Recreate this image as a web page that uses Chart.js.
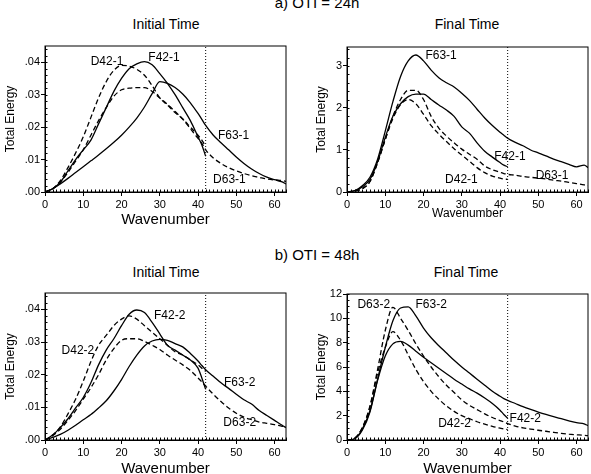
<!DOCTYPE html>
<html>
<head>
<meta charset="utf-8">
<script src="https://cdn.jsdelivr.net/npm/chart.js@4"></script>
<style>
  html, body { margin: 0; padding: 0; background: #fff; overflow: hidden; }
  body { width: 591px; height: 474px; position: relative; font-family: "Liberation Sans", Arial, sans-serif; color: #000; }
  .txt { position: absolute; width: 200px; text-align: center; white-space: nowrap; }
  .head { font-size: 15px; line-height: 15px; }
  .ttl { font-size: 14px; line-height: 14px; }
  canvas { position: absolute; }
</style>
</head>
<body>
<div class="txt head" style="left:217px; top:-5px;">a) OTI = 24h</div>
<div class="txt head" style="left:217px; top:247px;">b) OTI = 48h</div>
<div class="txt ttl" style="left:66px; top:17px;">Initial Time</div>
<div class="txt ttl" style="left:367px; top:17px;">Final Time</div>
<div class="txt ttl" style="left:66px; top:265px;">Initial Time</div>
<div class="txt ttl" style="left:366px; top:265px;">Final Time</div>

<canvas id="c1" width="296" height="200" style="left:0px; top:30px;"></canvas>
<canvas id="c2" width="279" height="200" style="left:312px; top:30px;"></canvas>
<canvas id="c3" width="296" height="205" style="left:0px; top:278px;"></canvas>
<canvas id="c4" width="279" height="205" style="left:312px; top:278px;"></canvas>

<script>
// wavenumbers (42-runs stop at 42)
const waves = [0,2,4,6,8,10,12,14,16,18,20,22,24,26,28,30,32,34,36,38,40,41,42,44,46,48,50,52,54,56,58,60,62,63];
const xTicks = [0,10,20,30,40,50,60];
const xTickLabels = ['0','10','20','30','40','50','60'];

// a) OTI = 24h, initial time
const aInitD42 = [0,.001,.0035,.0075,.012,.017,.023,.029,.034,.0375,.039,.0388,.0378,.036,.0328,.029,.0268,.0245,.0225,.02,.0175,.016,.014];
const aInitF42 = [0,.001,.003,.0065,.01,.013,.016,.021,.026,.031,.035,.038,.0395,.0402,.0392,.0365,.0335,.03,.026,.022,.017,.0145,.011];
const aInitD63 = [0,.001,.003,.006,.0095,.013,.0175,.022,.026,.0295,.0315,.032,.0322,.0322,.031,.029,.027,.0248,.0225,.0195,.0165,.015,.013,.0105,.0088,.0075,.0065,.0057,.005,.0045,.004,.0037,.0035,.0033];
const aInitF63 = [0,.001,.0025,.0042,.006,.0078,.0096,.0114,.0133,.0153,.0175,.0200,.0228,.0262,.0303,.034,.0335,.0322,.0302,.0275,.0242,.0224,.0205,.0175,.0152,.013,.0108,.0088,.0071,.0057,.0046,.0038,.0031,.0025];

// a) OTI = 24h, final time
const aFinD42 = [0,.02,.08,.25,.7,1.25,1.75,2.08,2.2,2.1,1.85,1.58,1.38,1.2,1.03,.88,.73,.58,.46,.38,.33,.31,.3];
const aFinF42 = [0,.03,.12,.3,.72,1.3,1.8,2.1,2.27,2.33,2.33,2.2,2.07,1.95,1.8,1.55,1.4,1.17,.97,.83,.7,.64,.6];
const aFinD63 = [0,.02,.08,.25,.7,1.25,1.8,2.2,2.42,2.42,2.2,1.8,1.52,1.33,1.17,1.02,.9,.78,.62,.53,.47,.44,.42,.4,.37,.35,.33,.31,.28,.26,.23,.2,.17,.15];
const aFinF63 = [0,.03,.15,.35,.78,1.45,2.15,2.75,3.12,3.26,3.12,2.9,2.72,2.6,2.5,2.35,2.18,1.97,1.76,1.58,1.42,1.35,1.28,1.18,1.1,1.0,.93,.86,.78,.72,.66,.6,.64,.58];

// b) OTI = 48h, initial time
const bInitD42 = [0,.0015,.004,.008,.0125,.018,.024,.029,.032,.035,.037,.038,.037,.035,.033,.031,.029,.027,.026,.0245,.023,.022,.021];
const bInitF42 = [0,.0015,.0038,.0065,.0098,.013,.0175,.023,.0275,.031,.035,.0385,.0398,.039,.036,.0325,.029,.0275,.026,.0245,.022,.019,.0155];
const bInitD63 = [0,.0013,.0033,.006,.009,.0125,.016,.02,.0245,.028,.0305,.031,.031,.0302,.029,.0277,.026,.0245,.023,.0213,.019,.0178,.0165,.014,.0118,.0098,.0082,.007,.0062,.0055,.0051,.0047,.0042,.004];
const bInitF63 = [0,.0008,.0017,.003,.0045,.0062,.0078,.0098,.012,.015,.0185,.0225,.026,.0288,.0303,.0308,.0305,.0295,.0285,.0265,.0242,.0228,.0215,.0195,.0175,.0158,.014,.0123,.011,.009,.0075,.006,.0045,.0038];

// b) OTI = 48h, final time
const bFinD42 = [0,.15,1.0,2.7,5.5,7.6,8.9,8.2,7.0,5.8,4.8,4.0,3.35,2.8,2.35,2.0,1.75,1.5,1.3,1.12,.97,.9,.85];
const bFinF42 = [0,.1,.8,2.3,4.9,6.9,7.9,8.1,7.8,7.3,6.8,6.35,5.9,5.45,5.0,4.6,4.2,3.85,3.45,3.0,2.45,2.1,1.8];
const bFinD63 = [0,.15,1.0,2.8,5.8,9.0,10.9,10.0,9.0,7.9,6.9,6.0,5.2,4.5,3.9,3.3,2.85,2.5,2.15,1.85,1.6,1.48,1.35,1.15,1.0,.9,.8,.72,.63,.55,.48,.43,.38,.36];
const bFinF63 = [0,.1,.9,2.4,5.0,7.6,9.8,10.85,10.95,10.2,9.2,8.4,7.75,7.15,6.55,6.0,5.5,5.0,4.5,4.0,3.6,3.4,3.25,3.0,2.75,2.52,2.3,2.1,1.92,1.75,1.58,1.42,1.32,1.18];

// y ticks
const yTicksSmall = [0,.01,.02,.03,.04];
const yTickLabelsSmall = ['.00','.01','.02','.03','.04'];
const yTicksAFin = [0,1,2,3];
const yTickLabelsAFin = ['0','1','2','3'];
const yTicksBFin = [0,2,4,6,8,10,12];
const yTickLabelsBFin = ['0','2','4','6','8','10','12'];

// curve labels (text, wavenumber, energy)
const aInitLabels = ['D42-1','F42-1','F63-1','D63-1'];
const aInitLabelX = [16.2, 31.1, 49.3, 48.2];
const aInitLabelY = [.0401, .0414, .0175, .0037];
const aFinLabels = ['F63-1','F42-1','D42-1','D63-1'];
const aFinLabelX = [24.6, 42.6, 29.9, 53.6];
const aFinLabelY = [3.25, .83, .29, .39];
const bInitLabels = ['F42-2','D42-2','F63-2','D63-2'];
const bInitLabelX = [32.6, 8.6, 50.9, 50.9];
const bInitLabelY = [.0382, .0272, .0176, .0052];
const bFinLabels = ['D63-2','F63-2','F42-2','D42-2'];
const bFinLabelX = [7.0, 22.0, 46.6, 28.1];
const bFinLabelY = [11.1, 11.1, 1.78, 1.31];

const FONT = '"Liberation Sans", Arial, sans-serif';

const panelDecor = {
    id: 'panelDecor',
    afterDatasetsDraw(chart, args, opts) {
        const {ctx, chartArea: a, scales: {x, y}} = chart;
        ctx.save();
        ctx.strokeStyle = '#000';
        ctx.lineWidth = 1;
        ctx.strokeRect(a.left, a.top, a.right - a.left, a.bottom - a.top);
        // minor ticks, inside the frame
        ctx.beginPath();
        for (let v = 0; v <= x.max; v += 1) {
            const px = Math.round(x.getPixelForValue(v)) + 0.5;
            ctx.moveTo(px, a.bottom);
            ctx.lineTo(px, a.bottom - 2.5);
        }
        for (let k = 0; k * opts.yMinor <= y.max + 1e-9; k++) {
            const py = Math.round(y.getPixelForValue(k * opts.yMinor)) + 0.5;
            ctx.moveTo(a.left, py);
            ctx.lineTo(a.left + 2.5, py);
        }
        ctx.stroke();
        ctx.font = '12px ' + FONT;
        ctx.fillStyle = '#000';
        ctx.textAlign = 'center';
        ctx.textBaseline = 'middle';
        opts.labels.forEach((t, i) => {
            ctx.fillText(t, x.getPixelForValue(opts.lx[i]), y.getPixelForValue(opts.ly[i]));
        });
        ctx.restore();
    }
};

function line(vals, dashed) {
    return {
        data: vals.map((v, i) => ({x: waves[i], y: v})),
        borderColor: '#000',
        borderWidth: 1.3,
        borderDash: dashed ? [5, 3] : [],
        pointRadius: 0,
        fill: false,
        cubicInterpolationMode: 'monotone'
    };
}

function makeChart(id, p) {
    const ctx = document.getElementById(id).getContext('2d');
    return new Chart(ctx, {
        type: 'line',
        data: {
            datasets: [
                line(p.d42, true),
                line(p.f42, false),
                line(p.d63, true),
                line(p.f63, false),
                {
                    data: [{x: 42, y: 0}, {x: 42, y: p.ymax}],
                    borderColor: '#000',
                    borderWidth: 1,
                    borderDash: [1, 2],
                    pointRadius: 0
                }
            ]
        },
        options: {
            responsive: false,
            animation: false,
            layout: { padding: { top: p.padTop, right: p.padRight, left: 0, bottom: 0 } },
            plugins: {
                legend: { display: false },
                tooltip: { enabled: false },
                panelDecor: { yMinor: p.yMinor, labels: p.labels, lx: p.lx, ly: p.ly }
            },
            scales: {
                x: {
                    type: 'linear', min: 0, max: 63,
                    afterBuildTicks: ax => { ax.ticks = xTicks.map(v => ({value: v})); },
                    afterFit: ax => { ax.height = p.xH; },
                    ticks: {
                        color: '#000', font: {family: FONT, size: 11}, padding: 2,
                        maxRotation: 0, autoSkip: false,
                        callback: (v, i) => xTickLabels[i]
                    },
                    grid: { drawOnChartArea: false, tickLength: 4, color: '#000' },
                    border: { color: '#000' },
                    title: {
                        display: true, text: 'Wavenumber', color: '#000',
                        font: {family: FONT, size: p.xTitleSize}, padding: {top: 0, bottom: p.xTitlePad}
                    }
                },
                y: {
                    type: 'linear', min: 0, max: p.ymax,
                    afterBuildTicks: ax => { ax.ticks = p.yTicks.map(v => ({value: v})); },
                    afterFit: ax => { ax.width = p.yW; },
                    ticks: {
                        color: '#000', font: {family: FONT, size: 11}, padding: 1,
                        callback: (v, i) => p.yLabels[i]
                    },
                    grid: { drawOnChartArea: false, tickLength: 4, color: '#000' },
                    border: { color: '#000' },
                    title: {
                        display: true, text: 'Total Energy', color: '#000',
                        font: {family: FONT, size: 12}, padding: {top: p.yTitlePad, bottom: 0}
                    }
                }
            }
        },
        plugins: [panelDecor]
    });
}

makeChart('c1', {
    d42: aInitD42, f42: aInitF42, d63: aInitD63, f63: aInitF63,
    ymax: .045, yTicks: yTicksSmall, yLabels: yTickLabelsSmall, yMinor: .002,
    padTop: 16, padRight: 10, xH: 38, yW: 45, xTitleSize: 15, xTitlePad: 1, yTitlePad: 3,
    labels: aInitLabels, lx: aInitLabelX, ly: aInitLabelY
});
makeChart('c2', {
    d42: aFinD42, f42: aFinF42, d63: aFinD63, f63: aFinF63,
    ymax: 3.45, yTicks: yTicksAFin, yLabels: yTickLabelsAFin, yMinor: .2,
    padTop: 17, padRight: 3, xH: 38, yW: 35, xTitleSize: 12, xTitlePad: 9, yTitlePad: 2,
    labels: aFinLabels, lx: aFinLabelX, ly: aFinLabelY
});
makeChart('c3', {
    d42: bInitD42, f42: bInitF42, d63: bInitD63, f63: bInitF63,
    ymax: .045, yTicks: yTicksSmall, yLabels: yTickLabelsSmall, yMinor: .002,
    padTop: 15, padRight: 10, xH: 43, yW: 45, xTitleSize: 15, xTitlePad: 5, yTitlePad: 3,
    labels: bInitLabels, lx: bInitLabelX, ly: bInitLabelY
});
makeChart('c4', {
    d42: bFinD42, f42: bFinF42, d63: bFinD63, f63: bFinF63,
    ymax: 12, yTicks: yTicksBFin, yLabels: yTickLabelsBFin, yMinor: .5,
    padTop: 16, padRight: 3, xH: 43, yW: 35, xTitleSize: 15, xTitlePad: 5, yTitlePad: 2,
    labels: bFinLabels, lx: bFinLabelX, ly: bFinLabelY
});
</script>
</body>
</html>
